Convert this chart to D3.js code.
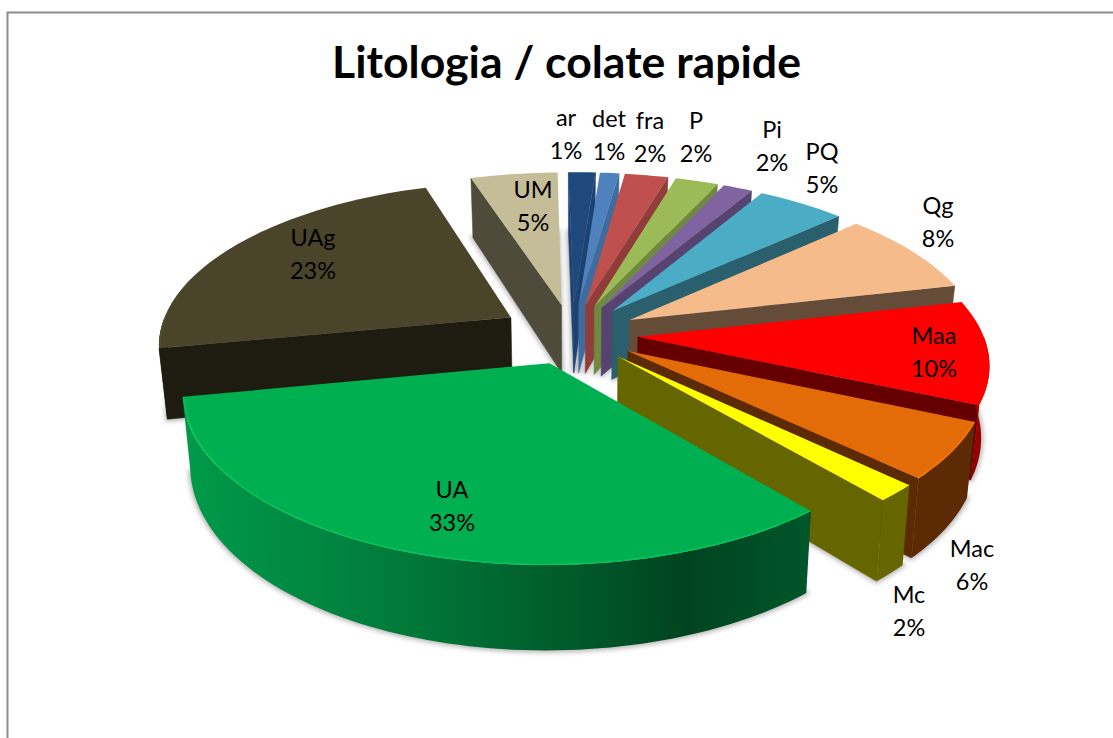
<!DOCTYPE html>
<html>

<head>
    <meta charset="utf-8">
    <script src="https://d3js.org/d3.v7.min.js"></script>
    <style>
        html, body { margin: 0; padding: 0; background: #fff; overflow: hidden; }
        text { font-family: Lato, "Open Sans", sans-serif; fill: #000; }
    </style>
</head>

<body>
</body>

<script>
    // chart values (shown rounded in the labels)
    const categories = ["ar", "det", "fra", "P", "Pi", "PQ", "Qg", "Maa", "Mac", "Mc", "UA", "UAg", "UM"];
    const percents = [1.45, 1.03, 2.33, 2.3, 1.58, 4.75, 8.2, 10.28, 5.56, 1.67, 33.06, 23.11, 4.68];
    const title = "Litologia / colate rapide";

    // colours per slice
    const topColors = ["#1f497d", "#4f81bd", "#c0504d", "#9bbb59", "#8064a2", "#4bacc6", "#f6bb8b",
        "#ff0000", "#e36c09", "#ffff00", "#00b050", "#4a452a", "#c4bd97"];
    const wallColors = ["#1c4272", "#3f6c9f", "#8f3c3a", "#6f8a3f", "#57436f", "#2a5f6d", "#644c38",
        "#660000", "#5c2a04", "#666600", "#00441f", "#1e1b10", "#4f4b3b"];
    const greenWallStops = [[0, "#009a4a"], [0.3, "#007f3c"], [0.62, "#005a2a"], [0.8, "#00441f"], [1, "#00562a"]];
    const redWallStops = [[0, "#c00000"], [1, "#8a0000"]];

    // label layout: centre x, baseline of first line
    const labelX = [566, 609, 650, 696, 772, 822, 938, 934, 972, 909, 452, 313, 533];
    const labelY = [126, 127, 129, 129, 138, 160, 214, 344, 557, 603, 498, 246, 198];
    const lineGap = 33;

    let width = 1113,
        height = 738;

    // pie geometry
    let cx = 572, cy = 334,
        radius = 352,
        tilt = 161, persp = 0.153,
        depth = 70, shrink = 0.98,
        firstAngle = -1 * Math.PI / 180;

    // how far each slice is pulled out, the right hand slices sit a bit tighter
    let explodeOf = name => name == "UAg" ? 72 : 66;
    let radiusOf = name => name == "Maa" ? 345 : (name == "Mac" || name == "Mc") ? 347 : radius;

    let svg = d3.select("body").append("svg")
        .attr("width", width)
        .attr("height", height);

    let defs = svg.append("defs");

    defs.append("filter").attr("id", "soft")
        .attr("x", "-20%").attr("y", "-20%").attr("width", "140%").attr("height", "140%")
        .append("feGaussianBlur").attr("stdDeviation", 2.5);

    function addGradient(id, stops, horizontal) {
        let grad = defs.append("linearGradient").attr("id", id)
            .attr("x1", 0).attr("y1", 0)
            .attr("x2", horizontal ? 1 : 0).attr("y2", horizontal ? 0 : 1);
        stops.forEach(s => grad.append("stop").attr("offset", s[0]).attr("stop-color", s[1]));
    }
    addGradient("wall-UA", greenWallStops, true);
    addGradient("wall-Maa", redWallStops, false);

    // frame
    svg.append("path")
        .attr("d", `M7.5,${height}V12.5H${width}`)
        .attr("fill", "none")
        .attr("stroke", "#8c8c8c")
        .attr("stroke-width", 2);

    svg.append("text")
        .attr("x", 566.5)
        .attr("y", 78)
        .attr("text-anchor", "middle")
        .attr("font-size", 44.6)
        .attr("font-weight", 700)
        .text(title);

    let line = d3.line();
    let rad = d => d * Math.PI / 180;

    let arcs = d3.pie().sort(null).value(d => d)
        .startAngle(firstAngle).endAngle(firstAngle + 2 * Math.PI)(percents)
        .map((d, i) => ({
            name: categories[i],
            value: d.value,
            a0: d.startAngle,
            a1: d.endAngle,
            b: (d.startAngle + d.endAngle) / 2,
            explode: explodeOf(categories[i]),
            r: radiusOf(categories[i]),
            color: topColors[i],
            wall: wallColors[i],
            index: i
        }));

    // screen position of a point on the pie, on the upper or the lower face
    function project(a, r, d, bottom) {
        let X = Math.sin(a) * r + Math.sin(d.b) * d.explode;
        let Y = (Math.cos(a) * r + Math.cos(d.b) * d.explode) / radius;
        let s = 1 / (1 + persp * Y);
        if (bottom) return [cx + X * s * shrink, cy - tilt * Y * s + depth * s];
        return [cx + X * s, cy - tilt * Y * s];
    }

    function arcPoints(a0, a1, r, d, bottom) {
        let n = Math.max(2, Math.ceil((a1 - a0) / rad(1.5)));
        return d3.range(n + 1).map(j => project(a0 + (a1 - a0) * j / n, r, d, bottom));
    }

    function radialWall(a, d) {
        return line([project(0, 0, d), project(a, d.r, d), project(a, d.r, d, true), project(0, 0, d, true)]) + "Z";
    }

    let order = arcs.slice().sort((p, q) => Math.cos(q.b) - Math.cos(p.b));
    let pieG = svg.append("g");

    order.forEach(d => {
        let g = pieG.append("g").attr("class", "slice");

        // soft shadow from the lower face
        g.append("path")
            .attr("d", line([project(0, 0, d, true)].concat(arcPoints(d.a0, d.a1, d.r, d, true))) + "Z")
            .attr("fill", "#808080")
            .attr("stroke", "#808080")
            .attr("stroke-width", 4)
            .attr("opacity", 0.6)
            .attr("filter", "url(#soft)");

        // radial side walls, only the one facing the viewer
        let apex = project(0, 0, d);
        if (project(d.a0, d.r, d)[0] < apex[0]) {
            g.append("path").attr("d", radialWall(d.a0, d))
                .attr("fill", d.wall).attr("stroke", d.wall).attr("stroke-width", 0.5);
        }
        if (project(d.a1, d.r, d)[0] > apex[0]) {
            g.append("path").attr("d", radialWall(d.a1, d))
                .attr("fill", d.wall).attr("stroke", d.wall).attr("stroke-width", 0.5);
        }

        // outer curved wall, front half only
        let w0 = Math.max(d.a0, rad(90)), w1 = Math.min(d.a1, rad(270));
        if (w1 > w0) {
            let fill = (d.name == "UA" || d.name == "Maa") ? `url(#wall-${d.name})` : d.wall;
            let upper = arcPoints(w0, w1, d.r, d);
            let lower = arcPoints(w0, w1, d.r, d, true).reverse();
            g.append("path").attr("d", line(upper.concat(lower)) + "Z").attr("fill", fill);
        }

        // upper face
        g.append("path")
            .attr("d", line([project(0, 0, d)].concat(arcPoints(d.a0, d.a1, d.r, d))) + "Z")
            .attr("fill", d.color);

        // thin bevel along the front rim
        if (w1 > w0) {
            g.append("path")
                .attr("d", line(arcPoints(w0, w1, d.r - 1, d)))
                .attr("fill", "none")
                .attr("stroke", d3.color(d.color).brighter(0.5))
                .attr("stroke-width", 1.2)
                .attr("opacity", 0.7);
        }
    });

    // data labels
    let labels = svg.append("g")
        .selectAll("text")
        .data(arcs)
        .join("text")
        .attr("text-anchor", "middle")
        .attr("font-size", 23.5);

    labels.append("tspan")
        .attr("x", d => labelX[d.index])
        .attr("y", d => labelY[d.index])
        .text(d => d.name);

    labels.append("tspan")
        .attr("x", d => labelX[d.index])
        .attr("y", d => labelY[d.index] + lineGap)
        .text(d => Math.round(d.value) + "%");

</script>

</html>
